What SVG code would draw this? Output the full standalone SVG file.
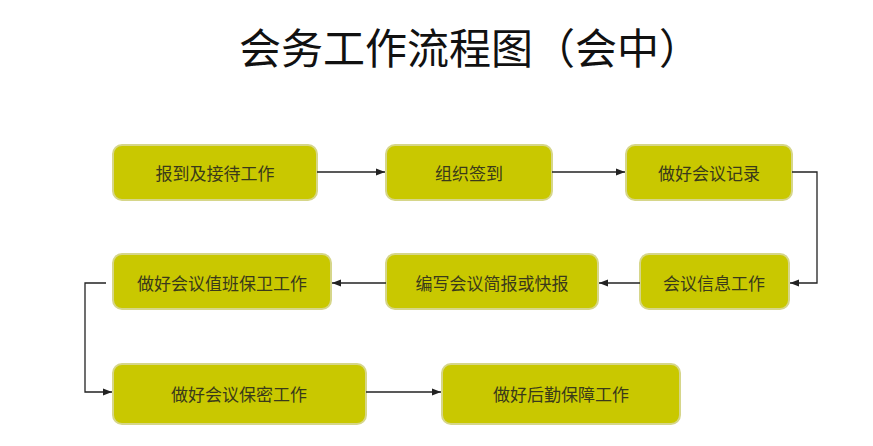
<svg xmlns="http://www.w3.org/2000/svg" width="873" height="446" viewBox="0 0 873 446">
<style>
.b{fill:#c9c800;stroke:#d6d68a;stroke-width:2}
.t{font-family:"Noto Sans CJK SC",sans-serif;font-size:17px;fill:#3a3a1a;text-anchor:middle;dominant-baseline:central}
.c{fill:none;stroke:#222;stroke-width:1.3;marker-end:url(#a)}
</style>
<defs><marker id="a" viewBox="0 0 10 10" refX="10" refY="5" markerWidth="7" markerHeight="7" orient="auto"><path d="M0,1 L10,5 L0,9 z" fill="#222"/></marker></defs>
<rect width="873" height="446" fill="#fff"/>
<text x="470" y="45" font-family="'Noto Sans CJK SC',sans-serif" font-size="42" fill="#111" text-anchor="middle" dominant-baseline="central">会务工作流程图（会中）</text>
<g id="n1"><rect class="b" x="113" y="145" width="204" height="55" rx="9"/><text class="t" x="215" y="172">报到及接待工作</text></g>
<g id="n2"><rect class="b" x="386" y="145" width="166" height="55" rx="9"/><text class="t" x="469" y="172">组织签到</text></g>
<g id="n3"><rect class="b" x="626" y="145" width="166" height="55" rx="9"/><text class="t" x="709" y="172">做好会议记录</text></g>
<g id="n4"><rect class="b" x="640" y="254" width="149" height="55" rx="9"/><text class="t" x="714" y="282">会议信息工作</text></g>
<g id="n5"><rect class="b" x="386" y="254" width="212" height="55" rx="9"/><text class="t" x="492" y="282">编写会议简报或快报</text></g>
<g id="n6"><rect class="b" x="113" y="254" width="218" height="55" rx="9"/><text class="t" x="222" y="282">做好会议值班保卫工作</text></g>
<g id="n7"><rect class="b" x="113" y="364" width="253" height="60" rx="9"/><text class="t" x="239" y="393">做好会议保密工作</text></g>
<g id="n8"><rect class="b" x="442" y="364" width="238" height="60" rx="9"/><text class="t" x="561" y="393">做好后勤保障工作</text></g>
<g id="connectors">
<path class="c" d="M317,172 H385"/>
<path class="c" d="M552,172 H625"/>
<path class="c" d="M792,172 H817 V283 H790"/>
<path class="c" d="M640,283 H599"/>
<path class="c" d="M386,283 H332"/>
<path class="c" d="M106,283 H85 V392 H112"/>
<path class="c" d="M366,392 H441"/>
</g>
</svg>
